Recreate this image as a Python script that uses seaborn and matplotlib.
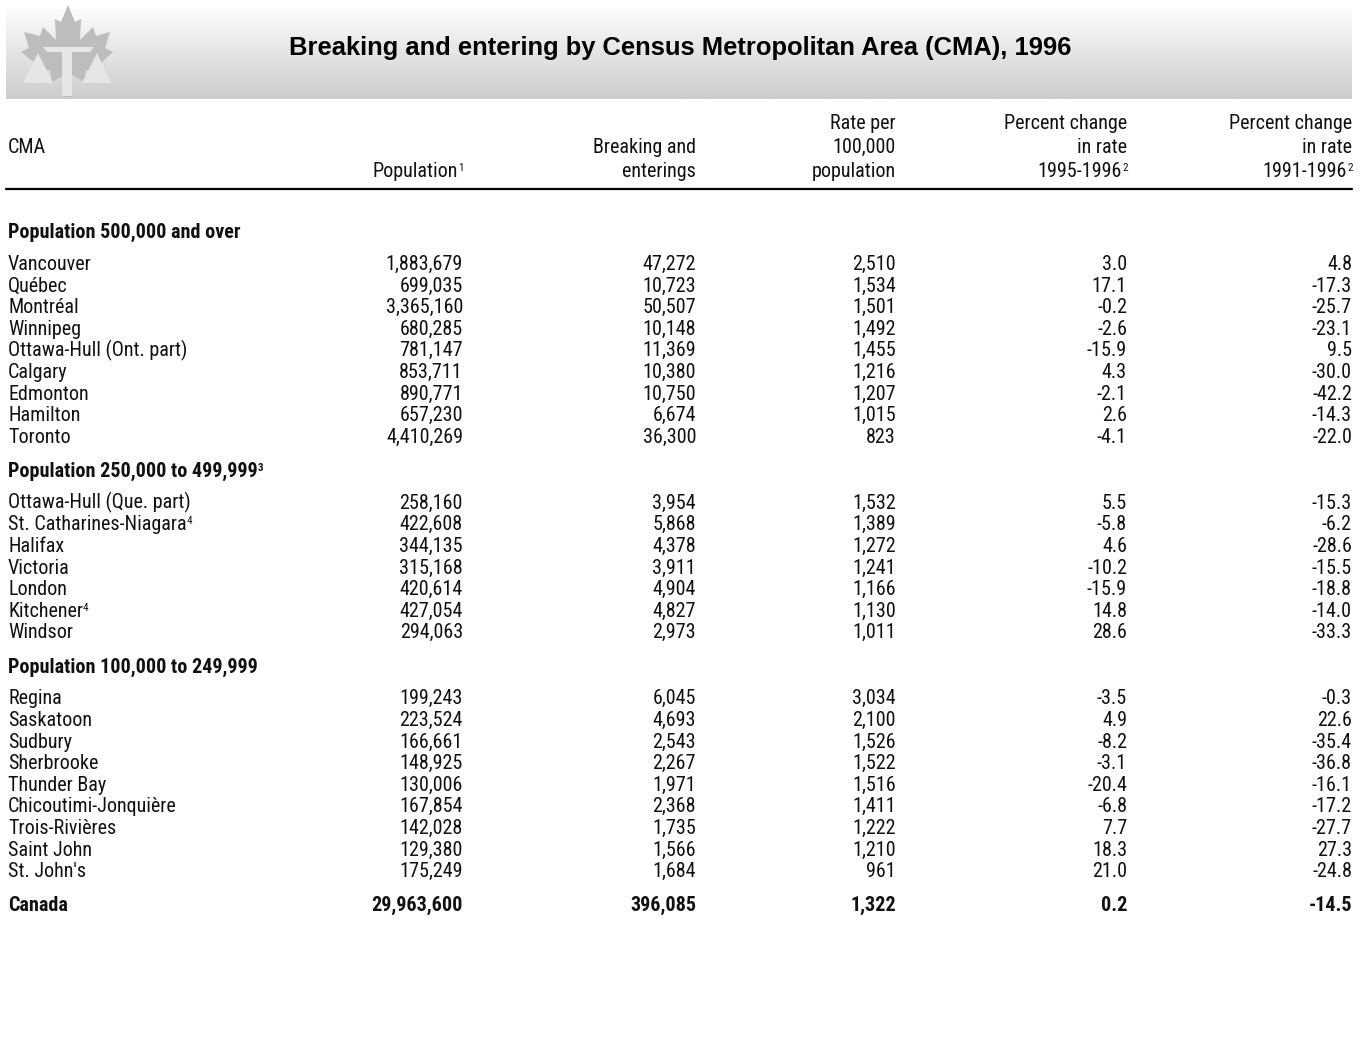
import numpy as np
import pandas as pd
import matplotlib
matplotlib.use('Agg')
import matplotlib.pyplot as plt
import seaborn as sns
from matplotlib import font_manager as fm
from matplotlib.patches import Polygon

# Table data
groups = ['Population 500,000 and over',
          'Population 250,000 to 499,999',
          'Population 100,000 to 249,999']
group_notes = ['', '3', '']

cma = ['Vancouver', 'Québec', 'Montréal', 'Winnipeg', 'Ottawa-Hull (Ont. part)',
       'Calgary', 'Edmonton', 'Hamilton', 'Toronto',
       'Ottawa-Hull (Que. part)', 'St. Catharines-Niagara', 'Halifax', 'Victoria',
       'London', 'Kitchener', 'Windsor',
       'Regina', 'Saskatoon', 'Sudbury', 'Sherbrooke', 'Thunder Bay',
       'Chicoutimi-Jonquière', 'Trois-Rivières', 'Saint John', "St. John's"]
cma_notes = ['', '', '', '', '', '', '', '', '',
             '', '4', '', '', '', '4', '',
             '', '', '', '', '', '', '', '', '']
group_id = [0] * 9 + [1] * 7 + [2] * 9
population = [1883679, 699035, 3365160, 680285, 781147, 853711, 890771, 657230, 4410269,
              258160, 422608, 344135, 315168, 420614, 427054, 294063,
              199243, 223524, 166661, 148925, 130006, 167854, 142028, 129380, 175249]
break_ins = [47272, 10723, 50507, 10148, 11369, 10380, 10750, 6674, 36300,
             3954, 5868, 4378, 3911, 4904, 4827, 2973,
             6045, 4693, 2543, 2267, 1971, 2368, 1735, 1566, 1684]
rate = [2510, 1534, 1501, 1492, 1455, 1216, 1207, 1015, 823,
        1532, 1389, 1272, 1241, 1166, 1130, 1011,
        3034, 2100, 1526, 1522, 1516, 1411, 1222, 1210, 961]
chg_95_96 = [3.0, 17.1, -0.2, -2.6, -15.9, 4.3, -2.1, 2.6, -4.1,
             5.5, -5.8, 4.6, -10.2, -15.9, 14.8, 28.6,
             -3.5, 4.9, -8.2, -3.1, -20.4, -6.8, 7.7, 18.3, 21.0]
chg_91_96 = [4.8, -17.3, -25.7, -23.1, 9.5, -30.0, -42.2, -14.3, -22.0,
             -15.3, -6.2, -28.6, -15.5, -18.8, -14.0, -33.3,
             -0.3, 22.6, -35.4, -36.8, -16.1, -17.2, -27.7, 27.3, -24.8]
canada = ['Canada', 29963600, 396085, 1322, 0.2, -14.5]

df = pd.DataFrame({'cma': cma, 'note': cma_notes, 'group': group_id,
                   'population': population, 'break_ins': break_ins, 'rate': rate,
                   'chg_95_96': chg_95_96, 'chg_91_96': chg_91_96})

sns.set_theme(style='white')

# pick the narrowest sans that is actually installed
names = {f.name for f in fm.fontManager.ttflist}
dejavu_cond = any(f.name == 'DejaVu Sans' and 'Condensed' in f.fname for f in fm.fontManager.ttflist)
stretch = 'normal'
if 'Liberation Sans Narrow' in names:
    body_family, fs = 'Liberation Sans Narrow', 14.5
elif 'Roboto Condensed' in names:
    body_family, fs = 'Roboto Condensed', 14.5
elif dejavu_cond:
    body_family, fs, stretch = 'DejaVu Sans', 13.5, 'condensed'
else:
    body_family, fs = 'Roboto', 13
plt.rcParams['font.family'] = [body_family, 'DejaVu Sans']
plt.rcParams['font.stretch'] = stretch

W, H = 1364, 1059
fig = plt.figure(figsize=(W / 100, H / 100), dpi=100)
ax = fig.add_axes([0, 0, 1, 1])
ax.set_xlim(0, W)
ax.set_ylim(H, 0)
ax.axis('off')

# Header band with vertical gradient
grad = np.linspace(0.99, 0.80, 200).reshape(-1, 1)
ax.imshow(grad, cmap='gray', vmin=0, vmax=1, extent=(6, 1352, 99, 8), aspect='auto', zorder=0)

# Logo: maple leaf with scales of justice
leaf = [(68, 5), (75, 22), (81, 19), (80, 40), (93, 27), (96, 36), (110, 32), (105, 48),
        (113, 52), (101, 63), (105, 74), (86, 70), (84, 82), (72, 75), (72, 97),
        (64, 97), (64, 75), (52, 82), (50, 70), (31, 74), (35, 63), (21, 52), (29, 48),
        (24, 32), (40, 36), (43, 27), (56, 40), (55, 19), (61, 22)]
ax.add_patch(Polygon(leaf, closed=True, fc='#bdbdbd', ec='none', zorder=1))
ax.add_patch(Polygon([(38, 53), (23, 83), (53, 83)], fc='#e6e6e6', ec='none', zorder=2))
ax.add_patch(Polygon([(97, 53), (82, 83), (111, 83)], fc='#e6e6e6', ec='none', zorder=2))
ax.add_patch(Polygon([(43, 47), (94, 47), (90, 52), (47, 52)], fc='#e6e6e6', ec='none', zorder=2))
ax.add_patch(Polygon([(62, 52), (72, 52), (72, 96), (62, 96)], fc='#e6e6e6', ec='none', zorder=2))

ax.text(680, 48, 'Breaking and entering by Census Metropolitan Area (CMA), 1996',
        ha='center', va='center', fontsize=18.4, fontweight='bold',
        family=['Liberation Sans', 'DejaVu Sans'], stretch='normal', color='black')

sup_fs = fs * 0.55
col_x = [463, 696, 896, 1127, 1352]
txt = '#111111'


def put(x, y, s, ha='right', bold=False, note=''):
    t = ax.text(x, y, s, ha=ha, va='baseline', fontsize=fs,
                fontweight='bold' if bold else 'normal', color=txt)
    if note:
        ax.annotate(note, xy=(1.0, 0.95), xycoords=t, ha='left', va='top',
                    fontsize=sup_fs, fontweight='bold' if bold else 'normal', color=txt)
    return t


# Column headings (baselines)
hb = [129, 153, 177]
put(8, hb[1], 'CMA', ha='left')
put(col_x[0] - 5, hb[2], 'Population', note='1')
put(col_x[1], hb[1], 'Breaking and')
put(col_x[1], hb[2], 'enterings')
put(col_x[2], hb[0], 'Rate per')
put(col_x[2], hb[1], '100,000')
put(col_x[2], hb[2], 'population')
for x in col_x[3:]:
    put(x, hb[0], 'Percent change')
    put(x, hb[1], 'in rate')
put(col_x[3] - 5, hb[2], '1995-1996', note='2')
put(col_x[4] - 5, hb[2], '1991-1996', note='2')
ax.plot([6, 1352], [189, 189], color='black', lw=1.6)

# Body
step = 21.6
y = 238
for g, name in enumerate(groups):
    put(8, y, name, ha='left', bold=True, note=group_notes[g])
    y += 32
    sub = df[df['group'] == g]
    for _, r in sub.iterrows():
        put(8, y, r['cma'], ha='left', note=r['note'])
        put(col_x[0], y, f"{r['population']:,}")
        put(col_x[1], y, f"{r['break_ins']:,}")
        put(col_x[2], y, f"{r['rate']:,}")
        put(col_x[3], y, f"{r['chg_95_96']:.1f}")
        put(col_x[4], y, f"{r['chg_91_96']:.1f}")
        y += step
    y += 34 - step

put(8, y, canada[0], ha='left', bold=True)
put(col_x[0], y, f"{canada[1]:,}", bold=True)
put(col_x[1], y, f"{canada[2]:,}", bold=True)
put(col_x[2], y, f"{canada[3]:,}", bold=True)
put(col_x[3], y, f"{canada[4]:.1f}", bold=True)
put(col_x[4], y, f"{canada[5]:.1f}", bold=True)

fig.savefig('out.png', dpi=100, facecolor='white')
